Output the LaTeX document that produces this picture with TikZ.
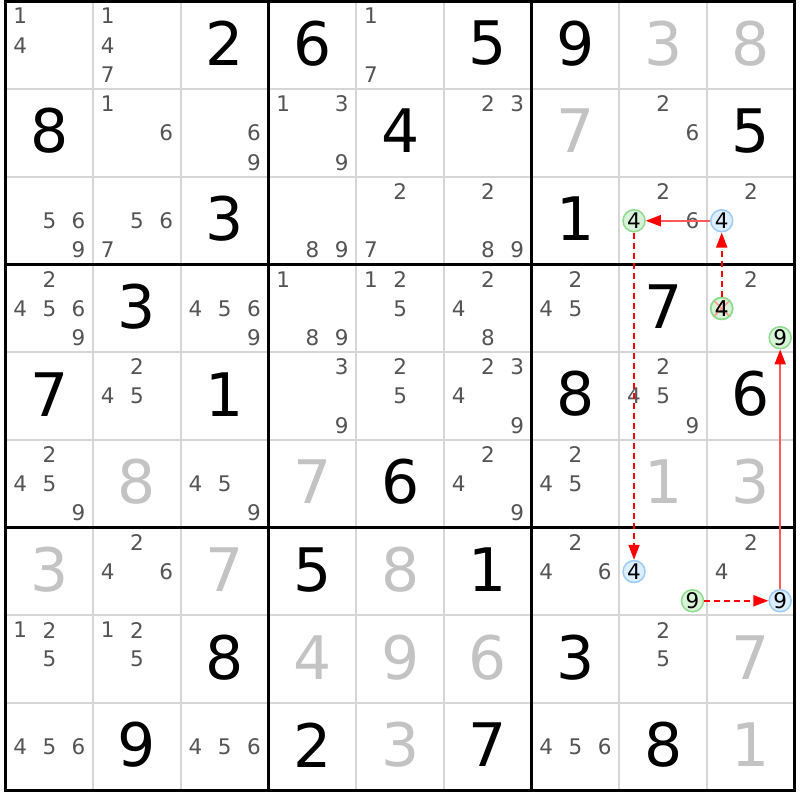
\documentclass[tikz,border=0pt]{standalone}
\usepackage{fontspec}
\setmainfont{DejaVu Sans}
\usetikzlibrary{arrows.meta}
\definecolor{candgray}{HTML}{545454}
\definecolor{solvedgray}{HTML}{C3C3C3}
\definecolor{gridgray}{HTML}{D6D6D6}
\definecolor{bluefillc}{HTML}{DCEEFF}
\definecolor{bluelinec}{HTML}{9CCBF5}
\definecolor{greenfillc}{HTML}{D8F3D8}
\definecolor{greenlinec}{HTML}{8EDB8E}
\definecolor{linkred}{HTML}{FF0000}
\definecolor{crosspink}{HTML}{FF9A9A}
\newcommand\GX{5.5}
\newcommand\GY{1.5}
\newcommand\CS{87.7}
\tikzset{
  givenstyle/.style={inner sep=0pt, font=\fontsize{60}{72}\selectfont, text=black},
  solvedstyle/.style={inner sep=0pt, font=\fontsize{60}{72}\selectfont, text=solvedgray},
  candstyle/.style={inner sep=0pt, font=\fontsize{21.5}{26}\selectfont, text=candgray},
  bluecirc/.style={circle, inner sep=0pt, minimum size=22pt, fill=bluefillc, draw=bluelinec, line width=1.5pt, font=\fontsize{21.5}{26}\selectfont, text=black},
  greencirc/.style={circle, inner sep=0pt, minimum size=22pt, fill=greenfillc, draw=greenlinec, line width=1.5pt, font=\fontsize{21.5}{26}\selectfont, text=black},
  solidlink/.style={draw=linkred!65, line width=1.8pt, -{Triangle[length=15pt,width=11pt,color=linkred]}},
  dashlink/.style={draw=linkred, line width=1.8pt, dash pattern=on 6pt off 4pt, -{Triangle[length=15pt,width=11pt,color=linkred]}},
}
% given / solved digit in column #1, row #2
\newcommand\given[3]{\node[givenstyle] (g-#1-#2) at ({\GX+(#1-0.5)*\CS},{\GY+(#2-0.5)*\CS-2}) {#3};}
\newcommand\solved[3]{\node[solvedstyle] (s-#1-#2) at ({\GX+(#1-0.5)*\CS},{\GY+(#2-0.5)*\CS-2}) {#3};}
% candidate position helper
\newcommand\candpos[3]{({\GX+(#1-1)*\CS+(mod(#3-1,3)+0.5)*\CS/3},{\GY+(#2-1)*\CS+(div(#3-1,3)+0.5)*\CS/3})}
\newcommand\cands[3]{\foreach \dd in {#3}{\node[candstyle] (c-#1-#2-\dd) at \candpos{#1}{#2}{\dd} {\dd};}}
\begin{document}
\begin{tikzpicture}[x=1pt,y=-1pt]
\useasboundingbox (0,0) rectangle (800,800);
\fill[white] (0,0) rectangle (800,800);
% thin grid
\foreach \i in {1,2,4,5,7,8}{
  \draw[gridgray, line width=2pt] ({\GX+\i*\CS},\GY) -- ({\GX+\i*\CS},{\GY+9*\CS});
  \draw[gridgray, line width=2pt] (\GX,{\GY+\i*\CS}) -- ({\GX+9*\CS},{\GY+\i*\CS});
}
% thick grid
\foreach \i in {3,6}{
  \draw[black, line width=3pt] ({\GX+\i*\CS},\GY) -- ({\GX+\i*\CS},{\GY+9*\CS});
  \draw[black, line width=3pt] (\GX,{\GY+\i*\CS}) -- ({\GX+9*\CS},{\GY+\i*\CS});
}
\draw[black, line width=3pt] (\GX,\GY) rectangle ({\GX+9*\CS},{\GY+9*\CS});
% givens
\given{3}{1}{2}\given{4}{1}{6}\given{6}{1}{5}\given{7}{1}{9}
\given{1}{2}{8}\given{5}{2}{4}\given{9}{2}{5}
\given{3}{3}{3}\given{7}{3}{1}
\given{2}{4}{3}\given{8}{4}{7}
\given{1}{5}{7}\given{3}{5}{1}\given{7}{5}{8}\given{9}{5}{6}
\given{5}{6}{6}
\given{4}{7}{5}\given{6}{7}{1}
\given{3}{8}{8}\given{7}{8}{3}
\given{2}{9}{9}\given{4}{9}{2}\given{6}{9}{7}\given{8}{9}{8}
% solved
\solved{8}{1}{3}\solved{9}{1}{8}
\solved{7}{2}{7}
\solved{2}{6}{8}\solved{4}{6}{7}\solved{8}{6}{1}\solved{9}{6}{3}
\solved{1}{7}{3}\solved{3}{7}{7}\solved{5}{7}{8}
\solved{4}{8}{4}\solved{5}{8}{9}\solved{6}{8}{6}\solved{9}{8}{7}
\solved{5}{9}{3}\solved{9}{9}{1}
% candidates
\cands{1}{1}{1,4}\cands{2}{1}{1,4,7}\cands{5}{1}{1,7}
\cands{2}{2}{1,6}\cands{3}{2}{6,9}\cands{4}{2}{1,3,9}\cands{6}{2}{2,3}\cands{8}{2}{2,6}
\cands{1}{3}{5,6,9}\cands{2}{3}{5,6,7}\cands{4}{3}{8,9}\cands{5}{3}{2,7}\cands{6}{3}{2,8,9}\cands{8}{3}{2,6}\cands{9}{3}{2}
\cands{1}{4}{2,4,5,6,9}\cands{3}{4}{4,5,6,9}\cands{4}{4}{1,8,9}\cands{5}{4}{1,2,5}\cands{6}{4}{2,4,8}\cands{7}{4}{2,4,5}\cands{9}{4}{2}
\cands{2}{5}{2,4,5}\cands{4}{5}{3,9}\cands{5}{5}{2,5}\cands{6}{5}{2,3,4,9}\cands{8}{5}{2,4,5,9}
\cands{1}{6}{2,4,5,9}\cands{3}{6}{4,5,9}\cands{6}{6}{2,4,9}\cands{7}{6}{2,4,5}
\cands{2}{7}{2,4,6}\cands{7}{7}{2,4,6}\cands{9}{7}{2,4}
\cands{1}{8}{1,2,5}\cands{2}{8}{1,2,5}\cands{8}{8}{2,5}
\cands{1}{9}{4,5,6}\cands{3}{9}{4,5,6}\cands{7}{9}{4,5,6}
% highlighted candidates
\node[bluecirc] (b-9-3-4) at \candpos{9}{3}{4} {4};
\node[greencirc] (k-8-3-4) at \candpos{8}{3}{4} {4};
\node[greencirc] (x-9-4-4) at \candpos{9}{4}{4} {4};
\node[greencirc] (k-9-4-9) at \candpos{9}{4}{9} {9};
\node[bluecirc] (b-8-7-4) at \candpos{8}{7}{4} {4};
\node[greencirc] (k-8-7-9) at \candpos{8}{7}{9} {9};
\node[bluecirc] (b-9-7-9) at \candpos{9}{7}{9} {9};
% elimination cross
\draw[crosspink, line width=1.6pt] (x-9-4-4.north west) -- (x-9-4-4.south east);
\draw[crosspink, line width=1.6pt] (x-9-4-4.north east) -- (x-9-4-4.south west);
\node[greencirc, fill=none, draw=greenlinec] at (x-9-4-4) {4};
% links
\draw[solidlink] (b-9-3-4) -- (k-8-3-4);
\draw[dashlink] (x-9-4-4) -- (b-9-3-4);
\draw[dashlink] (k-8-3-4) -- (b-8-7-4);
\draw[dashlink] (k-8-7-9) -- (b-9-7-9);
\draw[solidlink] (b-9-7-9) -- (k-9-4-9);
\end{tikzpicture}
\end{document}
